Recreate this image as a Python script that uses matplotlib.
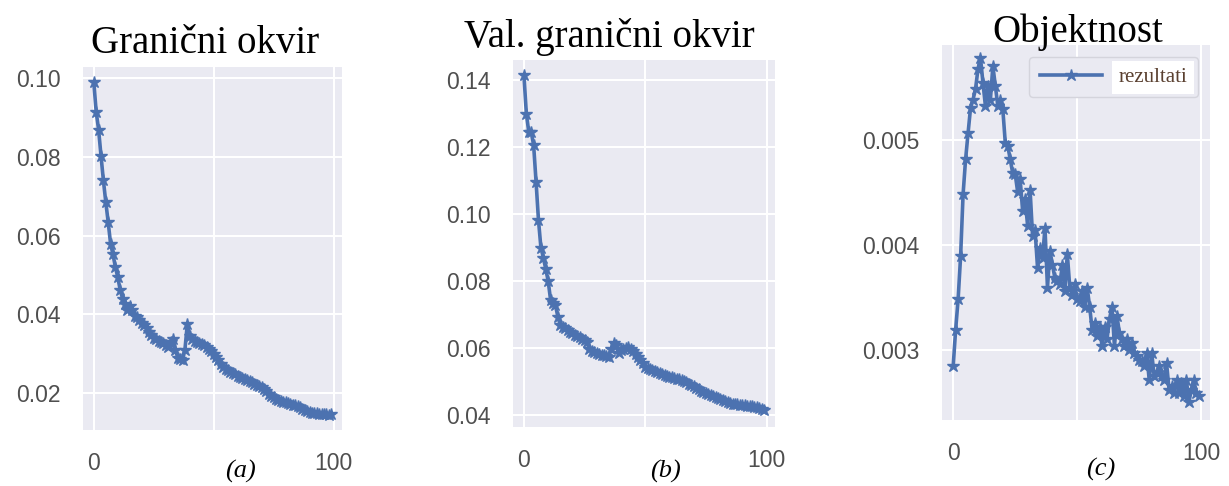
"""Three training-loss panels (seaborn darkgrid look) with serif titles and (a)/(b)/(c) captions."""
import matplotlib
matplotlib.use("Agg")
import matplotlib.pyplot as plt

W, H = 1229, 486
BLUE = "#4C72B0"
BG = "#EAEAF2"

epochs = list(range(100))

box_loss = [
    0.0990, 0.0914, 0.0869, 0.0803, 0.0740, 0.0685, 0.0634, 0.0579, 0.0552, 0.0520,
    0.0494, 0.0462, 0.0440, 0.0425, 0.0412, 0.0420, 0.0410, 0.0396, 0.0392, 0.0385,
    0.0377, 0.0372, 0.0364, 0.0355, 0.0347, 0.0340, 0.0336, 0.0333, 0.0329, 0.0326,
    0.0322, 0.0318, 0.0330, 0.0337, 0.0310, 0.0290, 0.0286, 0.0283, 0.0310, 0.0375,
    0.0345, 0.0336, 0.0333, 0.0330, 0.0327, 0.0325, 0.0321, 0.0316, 0.0312, 0.0306,
    0.0300, 0.0292, 0.0283, 0.0274, 0.0267, 0.0261, 0.0258, 0.0254, 0.0250, 0.0247,
    0.0244, 0.0241, 0.0238, 0.0235, 0.0233, 0.0231, 0.0228, 0.0224, 0.0220, 0.0217,
    0.0214, 0.0210, 0.0204, 0.0198, 0.0193, 0.0189, 0.0186, 0.0183, 0.0180, 0.0178,
    0.0176, 0.0174, 0.0172, 0.0170, 0.0169, 0.0168, 0.0164, 0.0160, 0.0156, 0.0153,
    0.0151, 0.0150, 0.0149, 0.0148, 0.0147, 0.0147, 0.0146, 0.0147, 0.0145, 0.0147,
]

val_box_loss = [
    0.1415, 0.1300, 0.1245, 0.1245, 0.1206, 0.1097, 0.0982, 0.0900, 0.0870, 0.0836,
    0.0800, 0.0743, 0.0733, 0.0728, 0.0693, 0.0669, 0.0663, 0.0659, 0.0654, 0.0649,
    0.0644, 0.0640, 0.0636, 0.0632, 0.0628, 0.0624, 0.0618, 0.0596, 0.0592, 0.0588,
    0.0584, 0.0582, 0.0580, 0.0578, 0.0576, 0.0574, 0.0598, 0.0614, 0.0608, 0.0586,
    0.0594, 0.0598, 0.0601, 0.0604, 0.0596, 0.0590, 0.0582, 0.0574, 0.0564, 0.0554,
    0.0544, 0.0540, 0.0537, 0.0534, 0.0531, 0.0529, 0.0526, 0.0523, 0.0520, 0.0517,
    0.0514, 0.0512, 0.0510, 0.0508, 0.0507, 0.0505, 0.0501, 0.0497, 0.0493, 0.0489,
    0.0485, 0.0481, 0.0477, 0.0473, 0.0469, 0.0465, 0.0462, 0.0459, 0.0456, 0.0453,
    0.0450, 0.0447, 0.0444, 0.0441, 0.0438, 0.0435, 0.0434, 0.0433, 0.0432, 0.0431,
    0.0430, 0.0429, 0.0428, 0.0427, 0.0426, 0.0425, 0.0423, 0.0421, 0.0418, 0.0415,
]

obj_loss = [
    0.00284, 0.00319, 0.00348, 0.00389, 0.00448, 0.00481, 0.00506, 0.00530, 0.00538, 0.00548,
    0.00567, 0.00578, 0.00554, 0.00532, 0.00551, 0.00538, 0.00570, 0.00551, 0.00532, 0.00538,
    0.00529, 0.00497, 0.00494, 0.00481, 0.00468, 0.00467, 0.00450, 0.00462, 0.00432, 0.00443,
    0.00418, 0.00452, 0.00408, 0.00414, 0.00378, 0.00397, 0.00387, 0.00416, 0.00359, 0.00394,
    0.00381, 0.00368, 0.00365, 0.00362, 0.00381, 0.00356, 0.00391, 0.00359, 0.00352, 0.00362,
    0.00348, 0.00346, 0.00356, 0.00341, 0.00359, 0.00341, 0.00319, 0.00325, 0.00313, 0.00322,
    0.00303, 0.00322, 0.00310, 0.00329, 0.00341, 0.00303, 0.00332, 0.00316, 0.00310, 0.00303,
    0.00310, 0.00300, 0.00306, 0.00297, 0.00294, 0.00290, 0.00289, 0.00284, 0.00297, 0.00271,
    0.00297, 0.00275, 0.00278, 0.00284, 0.00275, 0.00271, 0.00287, 0.00262, 0.00265, 0.00259,
    0.00271, 0.00259, 0.00268, 0.00256, 0.00271, 0.00250, 0.00262, 0.00271, 0.00259, 0.00256,
]

titles = ["Granični okvir", "Val. granični okvir", "Objektnost"]
captions = ["(a)", "(b)", "(c)"]
yticks = [[0.02, 0.04, 0.06, 0.08, 0.10],
          [0.04, 0.06, 0.08, 0.10, 0.12, 0.14],
          [0.003, 0.004, 0.005]]
ylims = [(0.0106, 0.1028), (0.0364, 0.146), (0.00233, 0.0059)]


def px_axes(fig, left, right, top, bottom):
    return fig.add_axes([left / W, 1 - bottom / H, (right - left) / W, (bottom - top) / H])


fig = plt.figure(figsize=(W / 100, H / 100), dpi=100)
fig.patch.set_facecolor("white")

boxes = [(83, 342, 67, 430), (513, 775, 60, 427), (942, 1210, 45, 420)]
series = [box_loss, val_box_loss, obj_loss]
title_pos = [(205, 53), (609, 47), (1078, 42)]
cap_pos = [(240, 471), (665, 471), (1101, 469)]

for i, (b, ys) in enumerate(zip(boxes, series)):
    ax = px_axes(fig, *b)
    ax.set_facecolor(BG)
    for s in ax.spines.values():
        s.set_visible(False)
    ax.grid(True, color="white", lw=1.5)
    ax.set_axisbelow(True)
    ax.plot(epochs, ys, color=BLUE, lw=2.6, marker="*", ms=9, label="rezultati")
    ax.set_xlim(-4.5, 103.5)
    ax.set_ylim(*ylims[i])
    ax.set_xticks([0, 50, 100])
    ax.set_xticklabels(["0", "", "100"])
    ax.set_yticks(yticks[i])
    ax.set_yticklabels([f"{v:.2f}" if i < 2 else f"{v:.3f}" for v in yticks[i]])
    ax.tick_params(length=0, pad=16, labelsize=16.5, labelcolor="#4f4f4f")
    for lab in ax.get_xticklabels() + ax.get_yticklabels():
        lab.set_family("Liberation Sans")
    tx, ty = title_pos[i]
    fig.text(tx / W, 1 - ty / H, titles[i], ha="center", va="baseline",
             fontsize=28, family="Liberation Serif", color="black")
    cx, cy = cap_pos[i]
    fig.text(cx / W, 1 - cy / H, captions[i], ha="center", va="center",
             fontsize=19, family="Liberation Serif", style="italic", color="black")
    if i == 2:
        leg = ax.legend(loc="upper right", bbox_to_anchor=(0.955, 0.968), borderaxespad=0,
                        prop={"family": "Liberation Serif", "size": 15}, handlelength=3,
                        borderpad=0.5, facecolor=BG, edgecolor="#d4d4dc",
                        framealpha=1, fancybox=True)
        for t in leg.get_texts():
            t.set_color("#5a4030")
            t.set_bbox(dict(facecolor="white", edgecolor="none", pad=5))

fig.savefig("out.png", dpi=100, facecolor="white")
